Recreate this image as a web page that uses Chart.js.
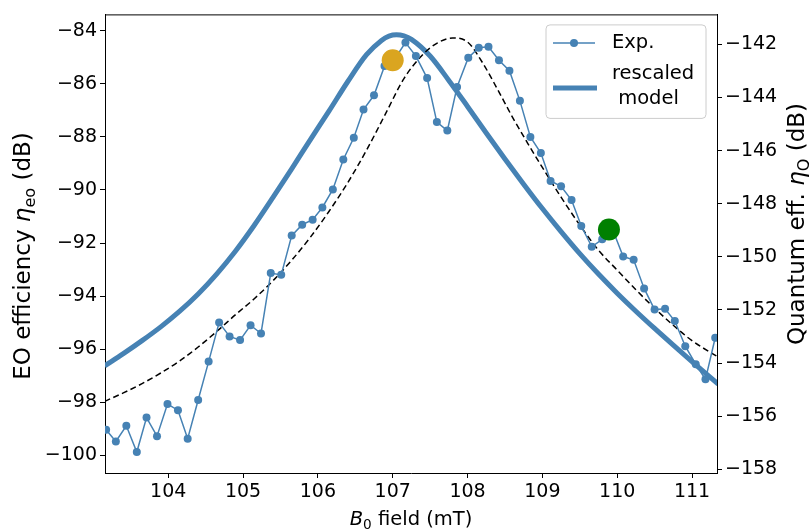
<!DOCTYPE html>
<html>
<head>
<meta charset="utf-8">
<script src="https://cdn.jsdelivr.net/npm/chart.js@4.4.0/dist/chart.umd.min.js"></script>
<style>
  html, body { margin: 0; padding: 0; background: #fff; }
  #wrap { width: 809px; height: 532px; }
</style>
</head>
<body>
<div id="wrap"><canvas id="eo"></canvas></div>
<script>
// measured points, B0 field (mT) and EO efficiency (dB)
const expField = [
  103.17, 103.30, 103.44, 103.58, 103.71, 103.85, 103.99, 104.13, 104.26, 104.40,
  104.54, 104.68, 104.82, 104.96, 105.10, 105.24, 105.37, 105.51, 105.65, 105.79,
  105.93, 106.06, 106.20, 106.34, 106.48, 106.61, 106.75, 106.89, 107.03, 107.17,
  107.31, 107.46, 107.59, 107.73, 107.86, 108.01, 108.15, 108.28, 108.42, 108.56,
  108.70, 108.84, 108.98, 109.11, 109.25, 109.39, 109.52, 109.66, 109.80, 109.94,
  110.08, 110.22, 110.36, 110.50, 110.64, 110.77, 110.91, 111.05, 111.18, 111.31
];
const expEff = [
  -99.04, -99.48, -98.89, -99.88, -98.58, -99.28, -98.07, -98.30, -99.38, -97.92,
  -96.47, -95.00, -95.52, -95.66, -95.10, -95.41, -93.13, -93.20, -91.72, -91.31,
  -91.12, -90.66, -89.98, -88.85, -88.03, -86.97, -86.43, -85.33, -85.05, -84.44,
  -84.95, -85.78, -87.44, -87.76, -86.12, -85.01, -84.64, -84.60, -85.11, -85.50,
  -86.64, -88.00, -88.61, -89.66, -89.86, -90.38, -91.36, -92.14, -91.86, -91.50,
  -92.51, -92.63, -93.71, -94.51, -94.48, -94.94, -95.89, -96.57, -97.14, -95.57
];

// rescaled model (thick line)
const modelField = [103.15, 103.4, 103.65, 103.9, 104.15, 104.4, 104.65, 104.9, 105.15,
  105.4, 105.65, 105.9, 106.15, 106.4, 106.65, 106.85, 106.95, 107.05, 107.15, 107.25,
  107.5, 107.75, 108.0, 108.25, 108.5, 108.75, 109.0, 109.25, 109.5, 109.75, 110.0,
  110.25, 110.5, 110.75, 111.0, 111.35];
const modelEff = [-96.63, -96.17, -95.68, -95.16, -94.58, -93.92, -93.16, -92.3, -91.33,
  -90.28, -89.2, -88.1, -87.02, -85.91, -84.9, -84.36, -84.2, -84.15, -84.19, -84.32,
  -84.95, -85.87, -86.85, -87.85, -88.83, -89.78, -90.7, -91.57, -92.4, -93.17, -93.89,
  -94.57, -95.22, -95.85, -96.47, -97.32];

// dashed curve
const dashField = [103.15, 103.4, 103.65, 103.9, 104.15, 104.4, 104.65, 104.9, 105.15,
  105.4, 105.65, 105.9, 106.15, 106.4, 106.65, 106.9, 107.15, 107.4, 107.6, 107.8, 108.0,
  108.2, 108.4, 108.6, 108.8, 109.0, 109.25, 109.5, 109.75, 110.0, 110.25, 110.5, 110.75,
  111.0, 111.35];
const dashEff = [-97.97, -97.65, -97.3, -96.9, -96.45, -95.92, -95.33, -94.7, -94.1,
  -93.42, -92.65, -91.78, -90.8, -89.72, -88.5, -87.15, -85.8, -84.9, -84.45, -84.27,
  -84.42, -85.2, -86.2, -87.25, -88.22, -89.15, -90.27, -91.32, -92.27, -93.02, -93.76,
  -94.46, -95.1, -95.68, -96.3];

// highlighted points
const goldPoint = [107.00, -85.11];
const greenPoint = [109.89, -91.49];

const xTicks = [104, 105, 106, 107, 108, 109, 110, 111];
const yTicks = [-100, -98, -96, -94, -92, -90, -88, -86, -84];
const qTicks = [-158, -156, -154, -152, -150, -148, -146, -144, -142];

const FONT = 'DejaVu Sans';
const BLUE = '#4682b4';

const pts = (xs, ys) => xs.map((x, i) => ({ x: x, y: ys[i] }));
const minus = v => String(v).replace('-', '\u2212');

function axisStyle(ticks) {
  return {
    afterBuildTicks: s => { s.ticks = ticks.map(v => ({ value: v })); },
    ticks: { color: '#000', font: { family: FONT, size: 19 }, padding: 3, callback: minus, autoSkip: false, maxRotation: 0 },
    grid: { display: true, drawOnChartArea: false, drawTicks: true, tickLength: 5, tickColor: '#000', tickWidth: 1 },
    border: { display: true, color: '#000', width: 1 }
  };
}

function richText(ctx, parts, x, y, angle, size) {
  const fontOf = p => (p.it ? 'italic ' : '') + (p.sub ? size * 0.7 : size) + 'px "' + FONT + '"';
  let total = 0;
  parts.forEach(p => { ctx.font = fontOf(p); p.w = ctx.measureText(p.t).width; total += p.w; });
  ctx.save();
  ctx.translate(x, y);
  ctx.rotate(angle);
  ctx.fillStyle = '#000';
  ctx.textBaseline = 'alphabetic';
  ctx.textAlign = 'left';
  let cx = -total / 2;
  parts.forEach(p => {
    ctx.font = fontOf(p);
    ctx.fillText(p.t, cx, p.sub ? size * 0.22 : 0);
    cx += p.w;
  });
  ctx.restore();
}

const decor = {
  id: 'decor',
  afterDraw(chart) {
    const ctx = chart.ctx;
    const a = chart.chartArea;
    // frame on top
    ctx.save();
    ctx.strokeStyle = '#000';
    ctx.lineWidth = 1;
    ctx.beginPath();
    ctx.moveTo(a.left, a.top + 0.5);
    ctx.lineTo(a.right, a.top + 0.5);
    ctx.stroke();
    ctx.restore();

    // axis titles
    richText(ctx, [{ t: 'B', it: true }, { t: '0', sub: true }, { t: ' field (mT)' }],
      (a.left + a.right) / 2, 525, 0, 19.5);
    richText(ctx, [{ t: 'EO efficiency ' }, { t: '\u03b7', it: true }, { t: 'eo', sub: true }, { t: ' (dB)' }],
      30, 256, -Math.PI / 2, 23);
    richText(ctx, [{ t: 'Quantum eff. ' }, { t: '\u03b7', it: true }, { t: 'Q', sub: true }, { t: ' (dB)' }],
      804, 224, -Math.PI / 2, 23);

    // legend
    const lx = a.right - 171, ly = a.top + 10.5, lw = 160, lh = 93.5;
    ctx.save();
    ctx.beginPath();
    ctx.roundRect(lx, ly, lw, lh, 4);
    ctx.fillStyle = 'rgba(255,255,255,0.8)';
    ctx.fill();
    ctx.strokeStyle = '#cccccc';
    ctx.lineWidth = 1;
    ctx.stroke();

    ctx.strokeStyle = BLUE;
    ctx.lineWidth = 1.5;
    ctx.beginPath();
    ctx.moveTo(lx + 7, ly + 18);
    ctx.lineTo(lx + 49, ly + 18);
    ctx.stroke();
    ctx.fillStyle = BLUE;
    ctx.beginPath();
    ctx.arc(lx + 28, ly + 18, 4, 0, Math.PI * 2);
    ctx.fill();

    ctx.lineWidth = 5;
    ctx.beginPath();
    ctx.moveTo(lx + 7, ly + 63);
    ctx.lineTo(lx + 51, ly + 63);
    ctx.stroke();

    ctx.fillStyle = '#000';
    ctx.font = '19.5px "' + FONT + '"';
    ctx.textBaseline = 'middle';
    ctx.textAlign = 'left';
    ctx.fillText('Exp.', lx + 66, ly + 18);
    ctx.fillText('rescaled', lx + 66, ly + 49);
    ctx.fillText(' model', lx + 66, ly + 74);
    ctx.restore();
  }
};

new Chart(document.getElementById('eo'), {
  type: 'line',
  data: {
    datasets: [
      {
        label: 'gold', data: [{ x: goldPoint[0], y: goldPoint[1] }], yAxisID: 'y',
        showLine: false, pointRadius: 11, pointBackgroundColor: '#daa520', pointBorderWidth: 0, order: 0
      },
      {
        label: 'green', data: [{ x: greenPoint[0], y: greenPoint[1] }], yAxisID: 'y',
        showLine: false, pointRadius: 11, pointBackgroundColor: '#008000', pointBorderWidth: 0, order: 0
      },
      {
        label: 'Exp.', data: pts(expField, expEff), yAxisID: 'y',
        borderColor: BLUE, borderWidth: 1.5, pointRadius: 4, pointBackgroundColor: BLUE,
        pointBorderWidth: 0, tension: 0, clip: 0, order: 1
      },
      {
        label: 'dashed', data: pts(dashField, dashEff), yAxisID: 'y',
        borderColor: '#000', borderWidth: 1.5, borderDash: [6, 3.5], pointRadius: 0,
        cubicInterpolationMode: 'monotone', clip: 0, order: 2
      },
      {
        label: 'rescaled model', data: pts(modelField, modelEff), yAxisID: 'y',
        borderColor: BLUE, borderWidth: 5, pointRadius: 0,
        cubicInterpolationMode: 'monotone', clip: 0, order: 3
      }
    ]
  },
  options: {
    responsive: true,
    maintainAspectRatio: false,
    animation: false,
    events: [],
    layout: { padding: { top: 6, left: 0, right: 0, bottom: 0 } },
    plugins: { legend: { display: false }, tooltip: { enabled: false } },
    scales: {
      x: Object.assign(axisStyle(xTicks), {
        type: 'linear', position: 'bottom', min: 103.155, max: 111.334,
        afterFit: s => { s.height = 59; }
      }),
      y: Object.assign(axisStyle(yTicks), {
        type: 'linear', position: 'left', min: -100.67, max: -83.38,
        afterFit: s => { s.width = 105; }
      }),
      y1: Object.assign(axisStyle(qTicks), {
        type: 'linear', position: 'right', min: -158.14, max: -140.87,
        afterFit: s => { s.width = 92; }
      })
    }
  },
  plugins: [decor]
});
</script>
</body>
</html>
